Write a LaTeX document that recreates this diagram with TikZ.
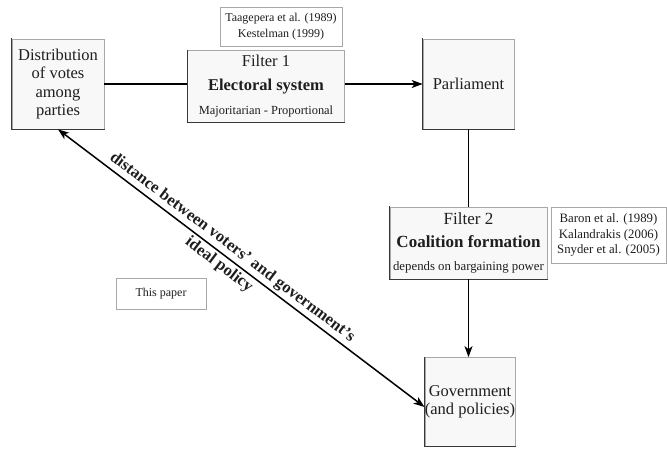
\documentclass[tikz,border=0pt]{standalone}
\usepackage{fontspec}
\setmainfont{Liberation Serif}
\usetikzlibrary{arrows.meta}
\definecolor{boxfill}{HTML}{F8F8F8}
\definecolor{boxline}{HTML}{A8A8A8}
\definecolor{edgedark}{HTML}{383838}
\definecolor{txt}{HTML}{1E1E1E}
\begin{document}
\begin{tikzpicture}[x=1pt,y=-1pt,
  mainbox/.style={draw=boxline, fill=boxfill, line width=0.7pt, inner sep=0pt, text=txt, align=center},
  refbox/.style={draw=boxline, fill=white, line width=0.7pt, inner sep=0pt, text=txt, align=center},
  darkedge/.style={draw=edgedark, line width=1.2pt, line cap=rect},
  conn/.style={draw=black, line width=1.5pt},
  tip/.tip={Stealth[length=11pt,width=8pt,inset=3pt]}]
\useasboundingbox (0,0) rectangle (667,448);

\node[mainbox, minimum width=92pt, minimum height=90pt, font=\fontsize{16.5}{18.5}\selectfont] (dist) at (58,84) {Distribution\\of votes\\among\\parties};

\node[refbox, minimum width=122pt, minimum height=39pt, font=\fontsize{12}{16.5}\selectfont] (ref1) at (281,26.5) {Taagepera et al. (1989)\\Kestelman (1999)};

\node[mainbox, minimum width=157pt, minimum height=72pt, font=\fontsize{16.5}{24}\selectfont] (f1) at (266,86.5) {Filter 1\\\textbf{Electoral system}\\{\fontsize{12.4}{15}\selectfont Majoritarian - Proportional}};

\node[mainbox, minimum width=91pt, minimum height=90pt, font=\fontsize{16.5}{18.5}\selectfont] (parl) at (468.5,84) {Parliament};

\node[mainbox, minimum width=157pt, minimum height=72pt, font=\fontsize{17}{23}\selectfont] (f2) at (468.5,243) {Filter 2\\\textbf{Coalition formation}\\{\fontsize{12.8}{15}\selectfont depends on bargaining power}};

\node[refbox, minimum width=115pt, minimum height=56pt, font=\fontsize{12.8}{15.5}\selectfont] (ref2) at (608.5,235) {Baron et al. (1989)\\Kalandrakis (2006)\\Snyder et al. (2005)};

\node[mainbox, minimum width=90pt, minimum height=89pt, font=\fontsize{16.5}{18.5}\selectfont] (gov) at (470,402) {Government\\(and policies)};

\node[refbox, minimum width=90pt, minimum height=31pt, font=\fontsize{12}{14}\selectfont] (paper) at (161,293.5) {This paper};

\foreach \n in {dist,f1,parl,f2,gov}
  \draw[darkedge] (\n.north west) |- (\n.south east);

\draw[conn] (dist.east) -- (dist.east -| f1.west);
\draw[conn,-tip] (f1.east |- parl.west) -- (parl.west);
\draw[conn] (parl.south) -- (parl.south |- f2.north);
\draw[conn,-tip] (f2.south) -- (f2.south |- gov.north);
\draw[conn,tip-tip] (dist.south) -- ([yshift=-5pt]gov.west)
  node[sloped, pos=0.457, align=center, inner sep=0pt, text=txt, font=\bfseries\fontsize{16.5}{22}\selectfont] (lbl) {distance between voters’ and government’s\\ideal policy};
\end{tikzpicture}
\end{document}
